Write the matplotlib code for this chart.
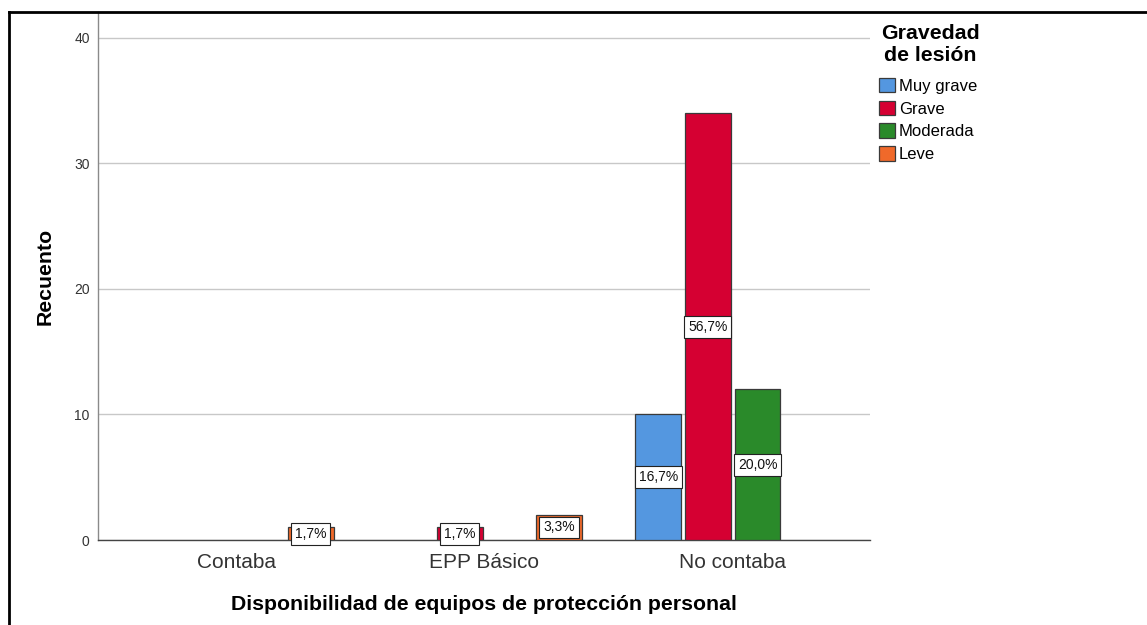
import matplotlib
matplotlib.use("Agg")
import matplotlib.pyplot as plt
from matplotlib.lines import Line2D
import numpy as np

plt.rcParams['font.family'] = ['Liberation Sans', 'DejaVu Sans']

categories = ["Contaba", "EPP Básico", "No contaba"]
series_names = ["Muy grave", "Grave", "Moderada", "Leve"]
counts = {
    "Muy grave": [0, 0, 10],
    "Grave":     [0, 1, 34],
    "Moderada":  [0, 0, 12],
    "Leve":      [1, 2, 0],
}
colors = {
    "Muy grave": "#5497E0",
    "Grave":     "#D50032",
    "Moderada":  "#2A8A2A",
    "Leve":      "#F0692A",
}
y_ticks = [0, 10, 20, 30, 40]

total = sum(sum(v) for v in counts.values())

W, H = 1147, 625
fig = plt.figure(figsize=(W / 100, H / 100), dpi=100)
ax = fig.add_axes([98 / W, 1 - 540 / H, (870 - 98) / W, (540 - 12) / H])

step = 0.2
width = 0.185
x = np.arange(len(categories))
for i, name in enumerate(series_names):
    off = (i - 1.5) * step
    vals = counts[name]
    for j, v in enumerate(vals):
        if v <= 0:
            continue
        ax.bar(x[j] + off, v, width=width, color=colors[name],
               edgecolor="#3a3a3a", linewidth=0.9, zorder=3)
        pct = v / total * 100
        txt = f"{pct:.1f}%".replace(".", ",")
        ax.text(x[j] + off, v / 2, txt, ha="center", va="center",
                fontsize=10, color="#111111", zorder=5,
                bbox=dict(boxstyle="square,pad=0.28", fc="white",
                          ec="#222222", lw=0.8))

ax.set_xlim(-0.556, 2.553)
ax.set_ylim(0, 42.07)
ax.set_yticks(y_ticks)
ax.set_xticks(x)
ax.set_xticklabels(categories, fontsize=15, color="#333333")
ax.tick_params(axis="y", length=0, labelsize=10, colors="#333333", pad=6)
ax.tick_params(axis="x", length=0, pad=9)
ax.yaxis.grid(True, color="#c8c8c8", linewidth=1.0, zorder=0)
ax.set_axisbelow(True)
for s in ["top", "right"]:
    ax.spines[s].set_visible(False)
ax.spines["left"].set_color("#8a8a8a")
ax.spines["left"].set_linewidth(1.0)
ax.spines["bottom"].set_color("#444444")
ax.spines["bottom"].set_linewidth(1.0)

ax.set_xlabel("Disponibilidad de equipos de protección personal",
              fontsize=15.3, fontweight="bold", labelpad=17)
ax.set_ylabel("Recuento", fontsize=15.3, fontweight="bold", labelpad=14)

# legend title
fig.text(930 / W, 1 - 24 / H, "Gravedad\nde lesión", ha="center", va="top",
         multialignment="center", fontsize=15.3, fontweight="bold",
         linespacing=1.18)

handles = [plt.Rectangle((0, 0), 1, 1, fc=colors[n], ec="#3a3a3a", lw=0.9)
           for n in series_names]
leg = fig.legend(handles, series_names, loc="upper left",
                 bbox_to_anchor=(879 / W, 1 - 78 / H),
                 frameon=False, fontsize=12,
                 handlelength=0.95, handleheight=0.95, handletextpad=0.25,
                 labelspacing=0.41, borderpad=0.0, borderaxespad=0.0)

# frame lines of the image
fig.add_artist(Line2D([9 / W, 1], [1 - 12 / H, 1 - 12 / H],
                      transform=fig.transFigure, color="black", lw=2))
fig.add_artist(Line2D([9 / W, 9 / W], [0, 1 - 12 / H],
                      transform=fig.transFigure, color="black", lw=2))

fig.savefig("out.png", dpi=100)
